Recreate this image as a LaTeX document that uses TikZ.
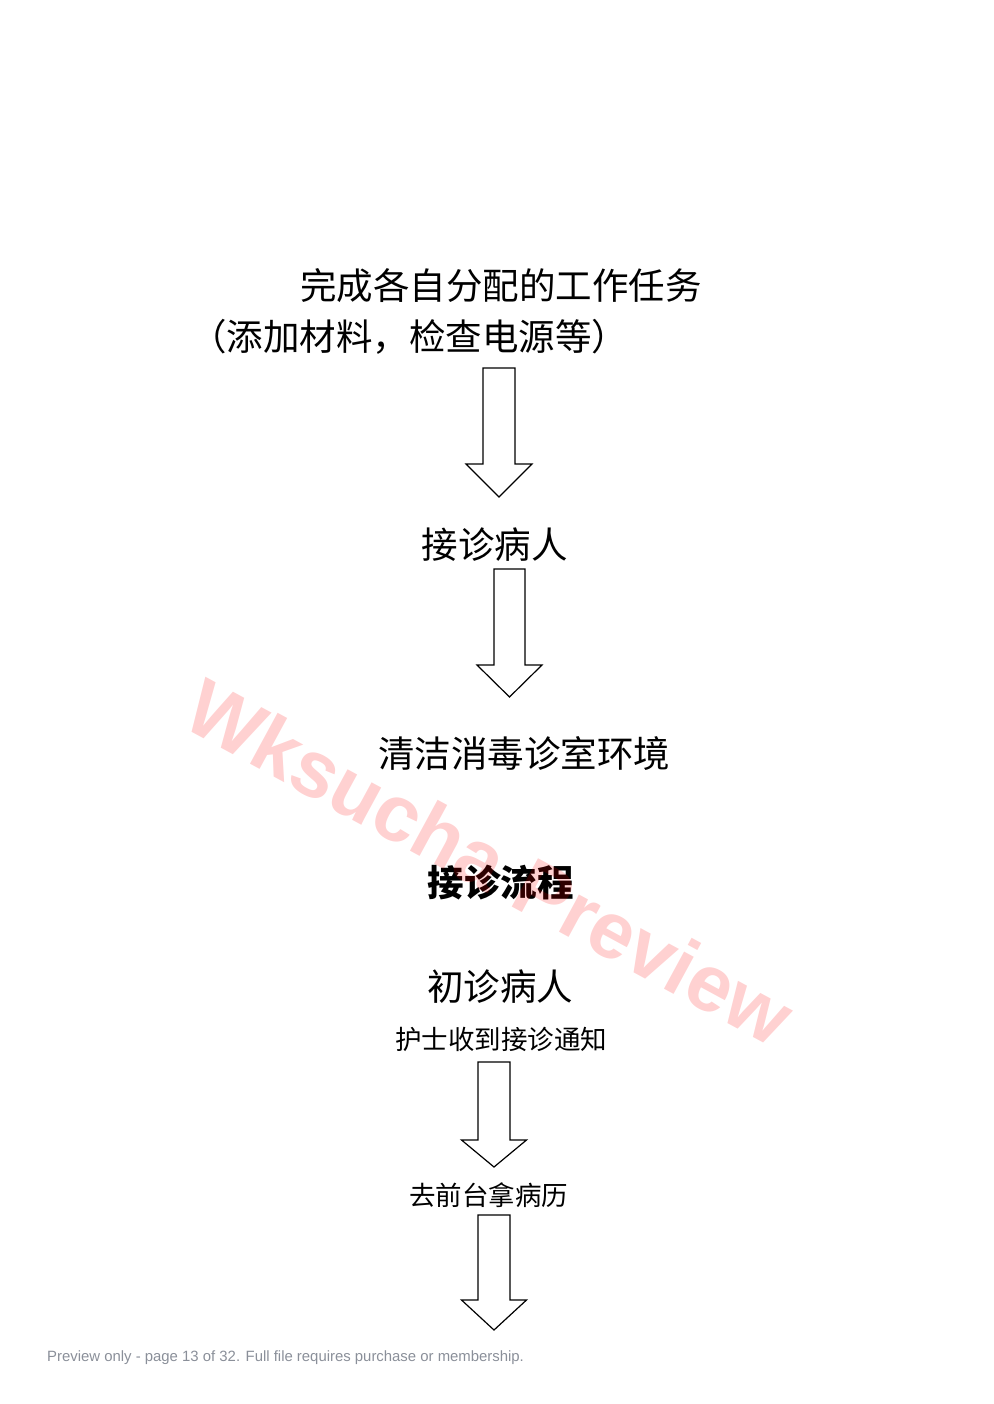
\documentclass[tikz,border=0pt]{standalone}
\usepackage{fontspec}
\newfontfamily\cjk{Noto Sans CJK SC}
\newfontfamily\lat{Liberation Sans}
\begin{document}
\begin{tikzpicture}[x=1pt,y=-1pt,
  big/.style={font=\cjk\fontsize{36.5}{40}\selectfont, inner sep=0pt, anchor=center},
  small/.style={font=\cjk\fontsize{26.5}{30}\selectfont, inner sep=0pt, anchor=center},
  blockarrow/.style={draw=black, line width=1.2pt, fill=white, line join=miter}]
\useasboundingbox (0,0) rectangle (993,1404);
\newcommand\barrow[6]{% cx, top, base, tip, half shaft, half head
  \draw[blockarrow] (#1-#5,#2) -- (#1+#5,#2) -- (#1+#5,#3) -- (#1+#6,#3) -- (#1,#4)
    -- (#1-#6,#3) -- (#1-#5,#3) -- cycle;}
\node[big] (t1) at (501,286) {完成各自分配的工作任务};
\node[big] (t2) at (409,337) {（添加材料，检查电源等）};
\barrow{499}{368}{464}{497}{16}{33}
\node[big] (t3) at (494.5,545) {接诊病人};
\barrow{509.5}{569}{665}{697}{15.5}{32.5}
\node[big] (t4) at (524,753) {清洁消毒诊室环境};
\node[big, font=\cjk\bfseries\fontsize{36.5}{40}\selectfont] (t5) at (500.5,883) {接诊流程};
\node[big] (t6) at (500,987) {初诊病人};
\node[small] (t7) at (501,1039) {护士收到接诊通知};
\barrow{494}{1062}{1140}{1167}{16}{32.5}
\node[small] (t8) at (488.5,1195) {去前台拿病历};
\barrow{494}{1215}{1300}{1330}{16}{32.5}
\node[font=\lat\bfseries\fontsize{80}{88}\selectfont, text=red, opacity=0.18, rotate=-28.5, inner sep=0pt] (wm) at (490,862) {Wksucha Preview};
\node[font=\lat\fontsize{14.9}{17}\selectfont, text={rgb,255:red,138;green,143;blue,153}, anchor=west, inner sep=0pt] (ft) at (47,1358) {Preview only - page 13 of 32. Full file requires purchase or membership.};
\end{tikzpicture}
\end{document}
